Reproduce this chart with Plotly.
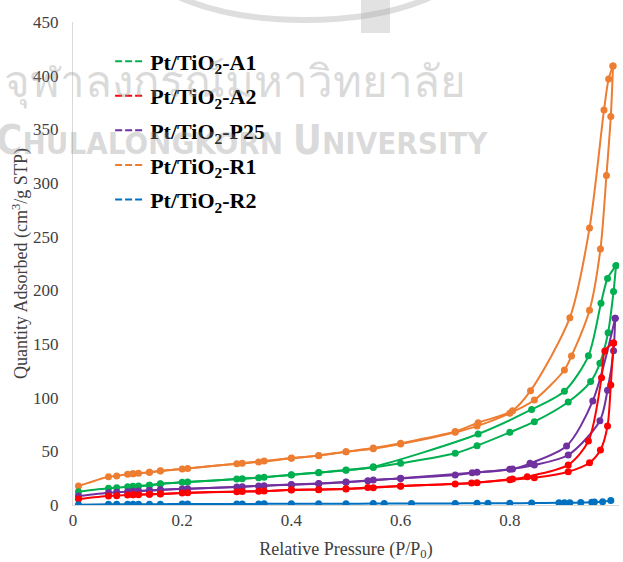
import plotly.graph_objects as go

# ---------------- data ----------------
x_tick_vals = [0, 0.2, 0.4, 0.6, 0.8, 1.0]
x_tick_text = ["0", "0.2", "0.4", "0.6", "0.8", "1"]
y_tick_vals = [0, 50, 100, 150, 200, 250, 300, 350, 400, 450]

names = ["Pt/TiO<sub>2</sub>-A1", "Pt/TiO<sub>2</sub>-A2", "Pt/TiO<sub>2</sub>-P25",
         "Pt/TiO<sub>2</sub>-R1", "Pt/TiO<sub>2</sub>-R2"]
colors = ["#00B050", "#FF0000", "#7030A0", "#ED7D31", "#0070C0"]

# Pt/TiO2-R1 (orange)
r1_ads_p = [0.01, 0.065, 0.08, 0.10, 0.11, 0.12, 0.14, 0.16, 0.20, 0.30, 0.34, 0.40, 0.45, 0.50, 0.55,
            0.60, 0.70, 0.74, 0.80, 0.845, 0.90, 0.913, 0.946, 0.966, 0.977, 0.985, 0.989]
r1_ads_q = [17.7, 26.4, 27.0, 28.6, 29.0, 29.5, 30.4, 31.7, 33.5, 38.5, 40.0, 43.5, 46.0, 49.5, 52.5,
            56.8, 67.7, 73.5, 85.4, 97.8, 125.8, 138.8, 181.4, 238.5, 307.0, 362.0, 409.0]
r1_des_p = [0.989, 0.981, 0.9725, 0.946, 0.910, 0.838, 0.805, 0.742, 0.70, 0.60, 0.55, 0.50, 0.45,
            0.40, 0.35, 0.31, 0.21, 0.16, 0.14, 0.11]
r1_des_q = [409.0, 397.0, 368.0, 258.0, 174.5, 106.5, 87.9, 76.7, 68.5, 57.5, 53.0, 49.7, 46.2,
            43.7, 41.0, 39.0, 34.1, 31.8, 30.5, 29.2]

# Pt/TiO2-A1 (green)
a1_ads_p = [0.01, 0.065, 0.08, 0.10, 0.11, 0.12, 0.14, 0.16, 0.20, 0.30, 0.34, 0.40, 0.45, 0.50, 0.55,
            0.60, 0.70, 0.74, 0.80, 0.845, 0.907, 0.948, 0.965, 0.98, 0.99, 0.9945]
a1_ads_q = [12.4, 15.5, 16.1, 17.0, 17.3, 17.7, 18.3, 19.6, 21.1, 24.2, 25.4, 28.0, 30.1, 32.3, 35.0,
            38.8, 48.2, 55.3, 67.7, 77.6, 96.0, 115.0, 132.0, 160.5, 198.8, 223.0]
a1_des_p = [0.9945, 0.979, 0.967, 0.944, 0.90, 0.84, 0.742, 0.55, 0.50, 0.45, 0.40, 0.35, 0.31,
            0.21, 0.16, 0.14, 0.11]
a1_des_q = [223.0, 211.0, 188.0, 139.0, 106.0, 89.0, 66.2, 35.7, 32.6, 30.3, 28.2, 25.8, 24.5,
            21.4, 19.8, 18.5, 17.4]

# Pt/TiO2-P25 (purple)
p25_ads_p = [0.01, 0.065, 0.08, 0.10, 0.11, 0.12, 0.14, 0.16, 0.20, 0.30, 0.34, 0.40, 0.45, 0.50, 0.55,
             0.60, 0.70, 0.74, 0.80, 0.845, 0.907, 0.965, 0.979, 0.99, 0.993]
p25_ads_q = [8.4, 11.5, 11.8, 12.4, 12.7, 13.0, 13.4, 14.0, 14.9, 16.8, 17.7, 18.9, 19.9, 21.2, 23.3,
             24.8, 28.0, 30.5, 33.2, 37.3, 46.6, 78.5, 107.0, 143.8, 174.0]
p25_des_p = [0.993, 0.952, 0.904, 0.837, 0.805, 0.731, 0.60, 0.54, 0.50, 0.45, 0.40, 0.35, 0.31,
             0.21, 0.16, 0.14, 0.11]
p25_des_q = [174.0, 97.0, 55.0, 38.8, 33.6, 30.0, 25.0, 22.6, 21.4, 20.1, 19.1, 18.0, 17.1,
             15.2, 14.2, 13.6, 12.8]

# Pt/TiO2-A2 (red)
a2_ads_p = [0.01, 0.065, 0.08, 0.10, 0.11, 0.12, 0.14, 0.16, 0.20, 0.30, 0.34, 0.40, 0.45, 0.50, 0.55,
            0.60, 0.70, 0.74, 0.80, 0.845, 0.907, 0.946, 0.966, 0.979, 0.985, 0.99]
a2_ads_q = [5.6, 8.4, 8.6, 9.3, 9.5, 9.6, 9.9, 10.2, 11.2, 12.4, 12.7, 14.0, 14.3, 14.9, 16.1,
            17.5, 19.6, 20.8, 23.5, 25.4, 31.0, 39.4, 51.2, 73.6, 111.8, 151.0]
a2_des_p = [0.99, 0.974, 0.968, 0.944, 0.907, 0.832, 0.805, 0.73, 0.60, 0.54, 0.50, 0.45, 0.40,
            0.35, 0.31, 0.21, 0.16, 0.14, 0.11]
a2_des_q = [151.0, 143.5, 118.6, 59.6, 37.3, 26.4, 24.2, 20.5, 17.8, 16.2, 15.1, 14.5, 14.2,
            13.0, 12.6, 11.4, 10.4, 10.1, 9.6]

# Pt/TiO2-R2 (blue)
r2_p = [0.01, 0.065, 0.08, 0.10, 0.11, 0.12, 0.14, 0.16, 0.20, 0.21, 0.30, 0.31, 0.34, 0.35, 0.40,
        0.45, 0.50, 0.55, 0.57, 0.62, 0.70, 0.74, 0.76, 0.80, 0.84, 0.89, 0.90, 0.91, 0.93, 0.95,
        0.955, 0.97, 0.985]
r2_q = [0.3, 0.6, 0.6, 0.7, 0.7, 0.7, 0.8, 0.8, 0.9, 0.9, 1.0, 1.0, 1.0, 1.1, 1.1,
        1.2, 1.2, 1.3, 1.3, 1.4, 1.5, 1.6, 1.6, 1.7, 1.8, 2.0, 2.1, 2.1, 2.3, 2.6,
        2.7, 3.0, 4.3]

watermark_th = "จุฬาลงกรณ์มหาวิทยาลัย"
watermark_en = ("<span style='font-size:40px'>C</span>HULALONGKORN "
                "<span style='font-size:40px'>U</span>NIVERSITY")

# ---------------- figure ----------------
fig = go.Figure()

def branch(px, qy, color):
    fig.add_trace(go.Scatter(
        x=px, y=qy, mode="lines+markers",
        line=dict(color=color, width=2, shape="spline", smoothing=0.8),
        marker=dict(color=color, size=7),
        showlegend=False, hoverinfo="skip"))

branch(r1_ads_p, r1_ads_q, colors[3])
branch(r1_des_p, r1_des_q, colors[3])
branch(a1_ads_p, a1_ads_q, colors[0])
branch(a1_des_p, a1_des_q, colors[0])
branch(p25_ads_p, p25_ads_q, colors[2])
branch(p25_des_p, p25_des_q, colors[2])
branch(a2_ads_p, a2_ads_q, colors[1])
branch(a2_des_p, a2_des_q, colors[1])
branch(r2_p, r2_q, colors[4])

# legend entries
for i, (nm, col) in enumerate(zip(names, colors)):
    fig.add_trace(go.Scatter(
        x=[None], y=[None], mode="lines", name="<b>" + nm + "</b>",
        legendgroup="g%d" % i,
        line=dict(color=col, width=2, dash="7px,3px")))

fig.update_layout(
    width=623, height=562,
    margin=dict(l=73, r=4, t=22, b=57),
    paper_bgcolor="white", plot_bgcolor="white",
    font=dict(family="Liberation Serif", color="#404040"),
    showlegend=True,
    legend=dict(
        x=0.068, y=0.962, xanchor="left", yanchor="top",
        bgcolor="rgba(0,0,0,0)", borderwidth=0,
        font=dict(family="Liberation Serif", size=22, color="black"),
        traceorder="grouped", tracegroupgap=3, itemwidth=30),
    xaxis=dict(
        range=[0, 1], tickmode="array", tickvals=x_tick_vals, ticktext=x_tick_text,
        showgrid=False, zeroline=False, showline=True, linecolor="#D9D9D9", linewidth=1,
        ticks="", tickfont=dict(size=17, color="#404040"),
        title=dict(text="Relative Pressure (P/P<sub>0</sub>)", standoff=12,
                   font=dict(size=18, color="#404040"))),
    yaxis=dict(
        range=[0, 450], tickmode="array", tickvals=y_tick_vals,
        showgrid=False, zeroline=False, showline=True, linecolor="#D9D9D9", linewidth=1,
        ticks="", tickfont=dict(size=17, color="#404040"), ticklabelstandoff=10,
        title=dict(text="Quantity Adsorbed (cm<sup>3</sup>/g STP)", standoff=0,
                   font=dict(size=18, color="#404040"))),
)

# faint watermark (emblem outline + text)
def px2x(p):
    return (p - 73) / 546.0

def px2y(p):
    return (505 - p) / 483.0

fig.add_shape(type="circle", xref="paper", yref="paper", layer="below",
              x0=px2x(140), x1=px2x(470), y0=px2y(20), y1=px2y(-110),
              line=dict(color="rgba(160,160,160,0.35)", width=6))
fig.add_shape(type="rect", xref="paper", yref="paper", layer="below",
              x0=px2x(361), x1=px2x(390), y0=px2y(33), y1=px2y(0),
              fillcolor="rgba(160,160,160,0.3)", line=dict(width=0))

fig.add_annotation(text=watermark_th, xref="paper", yref="paper", x=-0.13, y=0.88,
                   xanchor="left", yanchor="middle", showarrow=False,
                   font=dict(family="Noto Sans, DejaVu Sans", size=44, color="rgba(150,150,150,0.35)"))
fig.add_annotation(text="<b>" + watermark_en + "</b>", xref="paper", yref="paper", x=-0.145, y=0.755,
                   xanchor="left", yanchor="middle", showarrow=False,
                   font=dict(family="Liberation Sans Narrow, DejaVu Sans Condensed, DejaVu Sans", size=31,
                             color="rgba(150,150,150,0.35)"))

fig.write_html("out.html")
